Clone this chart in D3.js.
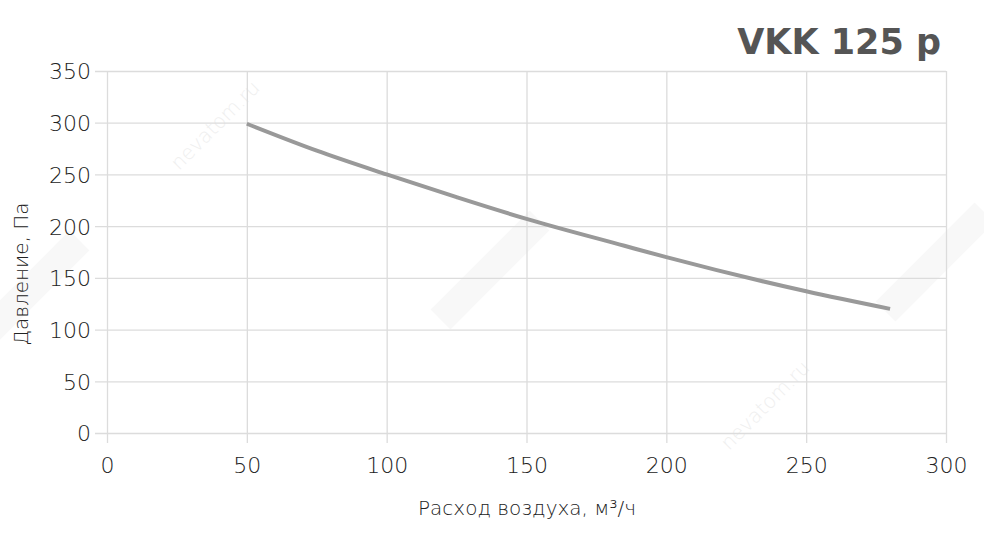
<!DOCTYPE html>
<html lang="ru">
<head>
<meta charset="UTF-8">
<title>VKK 125 p</title>
<script src="https://d3js.org/d3.v7.min.js"></script>
<style>
    body { margin: 0; background: #fff; }
    svg { display: block; font-family: "DejaVu Sans", sans-serif; }
    .tick text { fill: #222; font-family: "DejaVu Sans", sans-serif; font-size: 22px; font-weight: 200; }
    .grid line { stroke: #dcdcdc; stroke-width: 1.3; }
    .grid path { display: none; }
</style>
</head>
<body>
<svg id="chart" width="984" height="537"></svg>
<script>
    // airflow, m3/h
    const flow = [50, 75, 100, 125, 150, 185, 200, 250, 280];
    // pressure, Pa
    const pressure = [299, 273, 250, 228, 207, 181, 170, 137, 120];
    const xTicks = [0, 50, 100, 150, 200, 250, 300];
    const yTicks = [0, 50, 100, 150, 200, 250, 300, 350];

    const title = "VKK 125 p";
    const xTitle = "Расход воздуха, м³/ч";
    const yTitle = "Давление, Па";

    const svg = d3.select("#chart");
    const margin = {left: 107, right: 38, top: 71, bottom: 104};
    const W = 984, H = 537;

    let x = d3.scaleLinear().domain([0, 300]).range([margin.left, W - margin.right]);
    let y = d3.scaleLinear().domain([0, 350]).range([H - margin.bottom, margin.top]);

    // faint watermark
    let wm = svg.append("g");
    [[220, 130], [770, 410]].forEach(function (p) {
        wm.append("text")
            .attr("transform", "translate(" + p[0] + "," + p[1] + ") rotate(-45)")
            .attr("text-anchor", "middle")
            .style("font-size", "20px")
            .style("font-weight", 200)
            .style("fill", "#efefef")
            .text("nevatom.ru");
    });
    [[490, 270], [935, 262], [30, 290]].forEach(function (p) {
        wm.append("path")
            .attr("transform", "translate(" + p[0] + "," + p[1] + ") rotate(-45)")
            .attr("d", "M-70,-14 L70,-14 L70,14 L-70,14 Z")
            .attr("fill", "#f8f8f8");
    });

    // grid + ticks
    svg.append("g")
        .attr("class", "grid")
        .attr("transform", "translate(0," + (H - margin.bottom) + ")")
        .call(d3.axisBottom(x).tickValues(xTicks)
            .tickSize(-(H - margin.bottom - margin.top)).tickSizeOuter(0).tickPadding(0))
        .call(function (g) {
            g.selectAll(".tick line").attr("y2", 10).attr("y1", -(H - margin.bottom - margin.top));
            g.selectAll(".tick text").attr("y", 40).attr("dy", 0);
        });

    svg.append("g")
        .attr("class", "grid")
        .attr("transform", "translate(" + margin.left + ",0)")
        .call(d3.axisLeft(y).tickValues(yTicks)
            .tickSizeOuter(0).tickPadding(0))
        .call(function (g) {
            g.selectAll(".tick line").attr("x1", -12).attr("x2", W - margin.right - margin.left);
            g.selectAll(".tick text").attr("x", -16).attr("dy", "0.36em");
        });

    // curve
    let line = d3.line()
        .x(function (d) { return x(d[0]); })
        .y(function (d) { return y(d[1]); })
        .curve(d3.curveMonotoneX);

    svg.append("path")
        .datum(flow.map(function (f, i) { return [f, pressure[i]]; }))
        .attr("d", line)
        .attr("fill", "none")
        .attr("stroke", "#999")
        .attr("stroke-width", 4);

    // titles
    svg.append("text")
        .attr("x", 941).attr("y", 54)
        .attr("text-anchor", "end")
        .style("font-weight", "bold")
        .style("font-size", "35px")
        .style("fill", "#555")
        .text(title);

    svg.append("text")
        .attr("x", 527).attr("y", 515)
        .attr("text-anchor", "middle")
        .style("font-size", "20px")
        .style("font-weight", 200)
        .style("fill", "#222")
        .text(xTitle);

    svg.append("text")
        .attr("transform", "translate(28,274) rotate(-90)")
        .attr("text-anchor", "middle")
        .style("font-size", "20px")
        .style("font-weight", 200)
        .style("fill", "#222")
        .text(yTitle);
</script>
</body>
</html>
